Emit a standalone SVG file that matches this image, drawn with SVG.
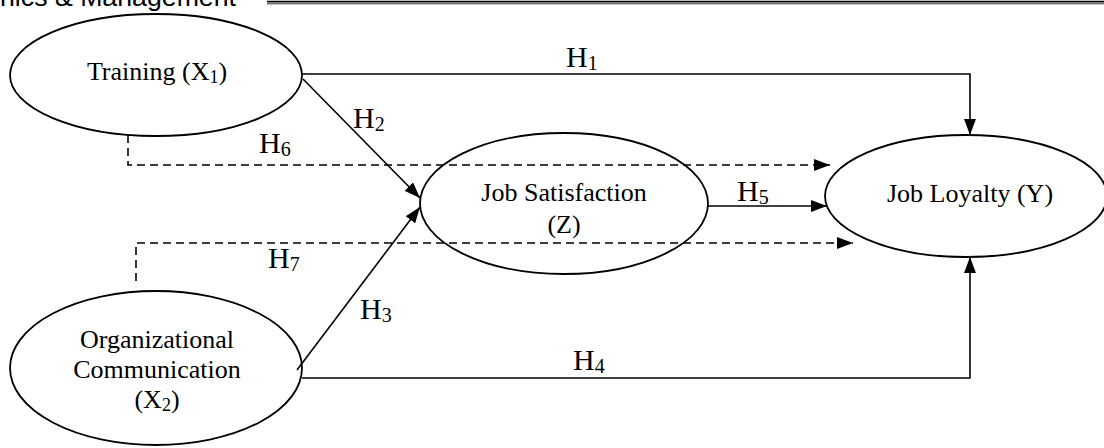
<svg xmlns="http://www.w3.org/2000/svg" width="1104" height="448" viewBox="0 0 1104 448">
<style>
.node ellipse{fill:none;stroke:#000;stroke-width:1.8}
.lbl{font-family:"Liberation Serif","Times New Roman",serif;font-size:26px;fill:#000;text-anchor:middle}
.h{font-family:"Liberation Serif","Times New Roman",serif;font-size:30px;fill:#000}
.sub{font-size:20px}
.nsub{font-size:18px}
.c{fill:none;stroke:#000;stroke-width:1.6}
.d{stroke-dasharray:8 5}
</style>
<defs>
<marker id="ah" viewBox="0 0 16 12" refX="16" refY="6" markerWidth="16" markerHeight="12" markerUnits="userSpaceOnUse" orient="auto">
<path d="M0,0 L16,6 L0,12 Z" fill="#000"/>
</marker>
</defs>
<rect width="1104" height="448" fill="#fff"/>
<g id="header">
<text x="0" y="6" font-family="Liberation Sans, Arial, sans-serif" font-size="26" textLength="236" lengthAdjust="spacingAndGlyphs">nics &amp; Management</text>
<line x1="267" y1="1.6" x2="1104" y2="1.6" stroke="#000" stroke-width="1.6"/>
<line x1="267" y1="3.8" x2="1104" y2="3.8" stroke="#000" stroke-width="0.8"/>
</g>
<g id="training" class="node">
<ellipse cx="156" cy="75" rx="146" ry="61"/>
<text class="lbl" x="157" y="80">Training (X<tspan class="nsub" dy="3">1</tspan><tspan dy="-3">)</tspan></text>
</g>
<g id="orgcomm" class="node">
<ellipse cx="156" cy="368" rx="146" ry="77"/>
<text class="lbl" x="157" y="348">Organizational</text>
<text class="lbl" x="157" y="378">Communication</text>
<text class="lbl" x="157" y="408">(X<tspan class="nsub" dy="3">2</tspan><tspan dy="-3">)</tspan></text>
</g>
<g id="jobsat" class="node">
<ellipse cx="564" cy="203.5" rx="144" ry="70.5"/>
<text class="lbl" x="564" y="201">Job Satisfaction</text>
<text class="lbl" x="564" y="233">(Z)</text>
</g>
<g id="loyalty" class="node">
<ellipse cx="966" cy="196" rx="141" ry="61"/>
<text class="lbl" x="970" y="202">Job Loyalty (Y)</text>
</g>
<g id="connectors">
<polyline class="c" points="302,74 970,74 970,135" marker-end="url(#ah)"/>
<line class="c" x1="303" y1="79" x2="420" y2="198" marker-end="url(#ah)"/>
<line class="c" x1="297" y1="370" x2="420" y2="207" marker-end="url(#ah)"/>
<polyline class="c" points="302,378 970,378 970,257" marker-end="url(#ah)"/>
<line class="c" x1="708" y1="206" x2="827" y2="206" marker-end="url(#ah)"/>
<polyline class="c d" points="128,135 128,165 830,165" marker-end="url(#ah)"/>
<polyline class="c d" points="136,281 136,243 853,243" marker-end="url(#ah)"/>
<text class="h" x="566" y="67">H<tspan class="sub" dy="3">1</tspan></text>
<text class="h" x="353" y="128">H<tspan class="sub" dy="3">2</tspan></text>
<text class="h" x="360" y="319">H<tspan class="sub" dy="3">3</tspan></text>
<text class="h" x="573" y="370">H<tspan class="sub" dy="3">4</tspan></text>
<text class="h" x="737" y="201">H<tspan class="sub" dy="3">5</tspan></text>
<text class="h" x="259" y="153">H<tspan class="sub" dy="3">6</tspan></text>
<text class="h" x="268" y="268">H<tspan class="sub" dy="3">7</tspan></text>
</g>
</svg>
